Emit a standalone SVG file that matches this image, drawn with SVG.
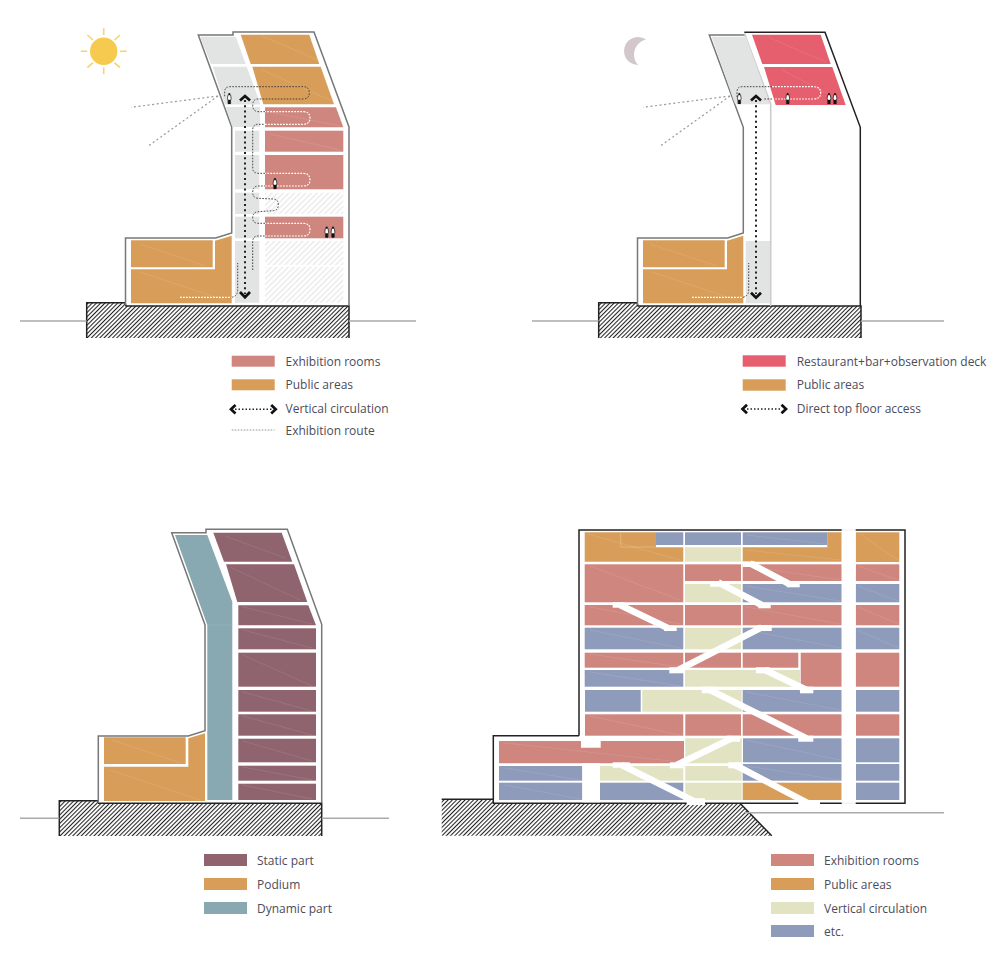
<svg xmlns="http://www.w3.org/2000/svg" xmlns:xlink="http://www.w3.org/1999/xlink" width="1000" height="962" viewBox="0 0 1000 962">
<style>
.red{fill:#cf867f}.org{fill:#d89e59}.grn{fill:#e2e3c2}.blu{fill:#8f9bbb}.gry{fill:#e2e3e3}.hot{fill:#e55f6e}.mar{fill:#8f646e}.tea{fill:#88a9b2}
.wht{fill:#fff}.lh{fill:url(#lightHatch)}
.out{fill:none;stroke:#777;stroke-width:1.5}.outk{fill:none;stroke:#222;stroke-width:1.5}
.gl{stroke:#aaa;stroke-width:1.5;fill:none}
.gh{fill:url(#hatch)}.gb{fill:none;stroke:#222;stroke-width:1.5}
.vc{fill:none;stroke:#222;stroke-width:2;stroke-dasharray:2 3.2}
.chev{fill:none;stroke:#111;stroke-width:2.7}
.rk{fill:none;stroke:#333;stroke-width:.9;stroke-dasharray:1.6 1.4}
.rw{fill:none;stroke:#fff;stroke-width:1.2;stroke-dasharray:1.8 1.2}
.sl{fill:none;stroke:#999;stroke-width:1.2;stroke-dasharray:2 2.6}
.ramp{fill:none;stroke:#fff;stroke-width:6.5}
.tex{fill:none;stroke:#fff;stroke-opacity:.14;stroke-width:.7}
.ray{stroke:#f7d46c;stroke-width:1.6}
text{font-family:"Open Sans","Liberation Sans",sans-serif;font-size:12px;fill:#4c4c5a}
</style>
<defs>
<pattern id="hatch" width="3" height="3" patternUnits="userSpaceOnUse" patternTransform="rotate(45)"><rect width="3" height="3" fill="#fff"/><rect width="1.05" height="3" fill="#222"/></pattern>
<pattern id="lightHatch" width="4" height="4" patternUnits="userSpaceOnUse" patternTransform="rotate(45)"><rect width="4" height="4" fill="#fff"/><rect width="1.3" height="4" fill="#e8e8e8"/></pattern>
<g id="person"><path d="M-1.3-4.2h2.6l.6 4-.6 1.2v3.6h-2.6V1L-1.900-.2z" fill="#fff" stroke="#111" stroke-width=".7"/><circle cy="-5" r="1" fill="#111"/><path d="M-1.200.8h2.400v4.200h-2.400z" fill="#111"/></g>
</defs>

<g id="panel-day">
<path class="gh" d="M86.700 302.700H125L126 306H349V338H86.700z"/>
<path class="gb" d="M86.700 338V302.700H125L126 306H349V338"/>
<path class="gl" d="M20 321H86.700M349 321H416"/>
<path class="out" d="M125.500 305V238H215.700L231.700 233V127L198.300 35H233V32H314L349 127V306"/>
<g id="sun"><circle cx="103.700" cy="51.300" r="13.700" fill="#f6c94f"/>
<path class="ray" d="M103.700 28.300V35M103.700 67.600V74.300M80.700 51.300H87.400M120 51.300H126.700M87.400 35L93 40M120 35L114.400 40M87.400 67.600L93 62.600M120 67.600L114.400 62.600"/></g>
<g id="d-grey">
<path class="gry" d="M200 36.700H235.700L245.700 64H211z"/>
<path class="gry" d="M212.700 66.700H246.700L260 103V104.500H224.800z"/>
<path class="gry" d="M225.700 107H260V127H232.300z"/>
<rect class="gry" x="235" y="130.700" width="24.300" height="21"/>
<rect class="gry" x="235" y="155" width="24.300" height="34.300"/>
<rect class="gry" x="235" y="192.700" width="24.300" height="21.300"/>
<rect class="gry" x="235" y="216.700" width="24.300" height="21.600"/>
<rect class="gry" x="235" y="241" width="24.300" height="61.700"/>
</g>
<g id="d-rooms">
<path class="org" d="M240.700 34.700H309.300L319.300 64H250.700z"/>
<path class="org" d="M252.300 66.700H320.700L334 104.300H263.300z"/>
<path class="red" d="M265 107.300H336L343.300 127.300H265z"/>
<rect class="red" x="265" y="130.700" width="78.300" height="21"/>
<rect class="red" x="265" y="155" width="78.300" height="34.300"/>
<rect class="lh" x="265" y="192.700" width="78.300" height="21.300"/>
<rect class="red" x="265" y="216.700" width="78.300" height="21.600"/>
<rect class="lh" x="265" y="241" width="78.300" height="24"/>
<rect class="lh" x="265" y="266.700" width="78.300" height="36"/>
<path class="org" d="M131 240.300H212.700V267.300H131z"/>
<path class="org" d="M131 269.300H215V240.700L231.700 235.700V303.300H131z"/>
<path class="tex" d="M262 36L318 60M262 70L330 100M270 112L340 126M270 134L340 150M140 244L205 266M140 272L225 300"/>
</g>
</g>

<g id="panel-night">
<path class="gh" d="M598.700 302.700H637L638 306H861V338H598.700z"/>
<path class="gb" d="M598.700 338V302.700H637L638 306H861V338"/>
<path class="gl" d="M532 321H598.700M861 321H944"/>
<path class="out" d="M637.500 305V238H727.700L743.300 233V127.300L709.300 35H745"/>
<path class="outk" d="M744.300 32.300H825L860.300 127.300V306"/>
<path d="M744.300 33L770.700 104V306" fill="none" stroke="#ccc" stroke-width="1.600"/>
<path d="M646 39.500A14 14 0 1 0 638.300 65C631 58 633 43 646 39.500z" fill="#d2c8cc"/>
<path class="gry" d="M711.700 36.700H746L770 104.300H735z"/>
<rect class="gry" x="745.700" y="241" width="24.300" height="62.300"/>
<path class="hot" d="M752 34.700H820.700L830.700 64H762.300z"/>
<path class="hot" d="M764 67H832.300L845.700 105H775.700z"/>
<path class="org" d="M643 240.300H724.700V267.300H643z"/>
<path class="org" d="M643 269.300H727V240.700L743.300 235.700V303.300H643z"/>
<path class="tex" d="M770 38L826 62M782 70L840 100M650 244L717 266M652 272L737 300"/>
</g>

<g id="panel-structure">
<path class="gh" d="M59.300 800.700H98L98.500 803.300H321.700V836H59.300z"/>
<path class="gb" d="M59.300 836V800.700H98L98.500 803.300H321.700V836"/>
<path class="gl" d="M20 818.300H59.300M321.700 818.300H389"/>
<path class="out" d="M98.300 803V736H188.300L205 730.700V625L171.700 532.700H206V529.300H287.300L321.700 624.300V803"/>
<path class="tea" d="M175 535H207.300L232.300 601.700V800H207.300V625z"/>
<g class="mar">
<path d="M213.300 532.700H281.700L292.300 561.700H224z"/>
<path d="M226 564.300H294L307.300 602H237.300z"/>
<path d="M238.300 605.300H308.300L316 625.300H238.300z"/>
<rect x="238.300" y="628.300" width="77.700" height="21"/>
<rect x="238.300" y="652.700" width="77.700" height="34"/>
<rect x="238.300" y="690" width="77.700" height="21.700"/>
<rect x="238.300" y="714.300" width="77.700" height="21.400"/>
<rect x="238.300" y="738.700" width="77.700" height="23.600"/>
<rect x="238.300" y="765.700" width="77.700" height="15"/>
<rect x="238.300" y="783.700" width="77.700" height="16.300"/>
</g>
<path class="org" d="M104 737.300H185.700V764H104z"/>
<path class="org" d="M104 766.700H188.300V738.300L205 733.300V801H104z"/>
<path class="tex" d="M225 536L285 558M230 567L300 600M243 607L312 624M243 630L312 648M243 655L312 686M243 692L312 711M243 716L312 735M243 741L312 761M243 767L312 780M243 785L312 799M112 740L180 763M110 770L200 800M207 625H232"/>
</g>

<g id="panel-section">
<path class="gh" d="M441.700 799.300H493.300V803.300H740L771.700 835.700H441.700z"/>
<path class="gb" d="M441.700 799.300H493.300"/>
<path class="gb" d="M740 803.300L771.700 835.700" stroke-width="1"/>
<path class="gl" d="M745 812.700H944"/>
<path class="outk" d="M579 735.700V530H905V803.300H493.300V735.700H579"/>
<g id="rooms-public" class="org">
<path d="M584.700 532.300H656V547.300H683.300V561.700H584.700z"/>
<path d="M742.700 547.300H827.300V532.300H841.700V561.700H742.700z"/>
<rect x="855.700" y="532.300" width="43.600" height="29.700"/>
<rect x="742.700" y="782.700" width="99" height="17.300"/>
</g>
<path d="M620.700 532.300V547H656" fill="none" stroke="#e6b981" stroke-width=".8"/>
<g id="rooms-etc" class="blu">
<rect x="656" y="532.300" width="27.300" height="12.700"/><rect x="685" y="532.300" width="56" height="12.700"/><rect x="742.700" y="532.300" width="84.600" height="12.700"/>
<rect x="742.700" y="584" width="99" height="18.300"/><rect x="855.700" y="584" width="43.600" height="18.300"/>
<rect x="584.700" y="627.700" width="98.600" height="21.600"/><rect x="742.700" y="627.700" width="99" height="21.600"/><rect x="855.700" y="627.700" width="43.600" height="21.600"/>
<rect x="584.700" y="670" width="98.600" height="16.700"/>
<rect x="585" y="690" width="55.700" height="21.700"/><rect x="742.700" y="690" width="99" height="21.700"/><rect x="856" y="690" width="43.300" height="21.700"/>
<rect x="743" y="738.300" width="98.700" height="24"/><rect x="856" y="738.300" width="43.300" height="24"/>
<rect x="499" y="766" width="83.300" height="14.700"/><rect x="742.700" y="764" width="99" height="16.700"/><rect x="856" y="764" width="43.300" height="16.700"/>
<rect x="499" y="782.700" width="83.300" height="17.300"/><rect x="600" y="782.700" width="83.300" height="17.300"/><rect x="856" y="782.700" width="43.300" height="17.300"/>
</g>
<g id="rooms-vertical" class="grn">
<rect x="685" y="547.300" width="56" height="14.400"/>
<rect x="685" y="584" width="56" height="18.300"/>
<rect x="685" y="627.700" width="56" height="21.600"/>
<rect x="685" y="670" width="115" height="16.700"/>
<rect x="642.300" y="690" width="99.400" height="21.700"/>
<rect x="685.300" y="738.300" width="56.400" height="25"/>
<rect x="600" y="766" width="83.300" height="14.700"/>
<rect x="685.300" y="766" width="56.400" height="14.700"/>
<rect x="685.300" y="782.700" width="56.400" height="17.300"/>
</g>
<g id="rooms-exhibition" class="red">
<rect x="584.700" y="564.300" width="98.600" height="38"/>
<rect x="685" y="564.300" width="56" height="16.700"/><rect x="742.700" y="564.300" width="99" height="16.700"/><rect x="855.700" y="564.300" width="43.600" height="16.700"/>
<rect x="584.700" y="605" width="98.600" height="20.300"/><rect x="685" y="605" width="56" height="20.300"/><rect x="742.700" y="605" width="99" height="20.300"/><rect x="855.700" y="605" width="43.600" height="20.300"/>
<rect x="584.700" y="652.700" width="98.600" height="15"/><rect x="685" y="652.700" width="56" height="15"/><rect x="742.700" y="652.700" width="55.600" height="15"/>
<rect x="800.700" y="652.700" width="41" height="34"/><rect x="855.700" y="652.700" width="43.600" height="34"/>
<rect x="585" y="714.300" width="98.300" height="21.400"/><rect x="685.300" y="714.300" width="55.700" height="21.400"/><rect x="742.700" y="714.300" width="99" height="21.400"/><rect x="856" y="714.300" width="43.300" height="21.400"/>
<path d="M499 741H581V747.700H600.700V741H684V763.300H499z"/>
</g>
<path class="tex" d="M590 566L680 600M590 607L680 624M590 630L680 648M590 654L680 667M590 672L680 686M590 716L680 735M505 743L680 762M505 768L580 780M505 785L580 799M746 535L826 544M746 550L840 560M746 566L840 580M746 586L840 601M746 607L840 624M746 630L840 648M746 692L840 710M746 740L840 760M746 766L840 780M858 566L898 580M858 586L898 601M858 607L898 624M858 630L898 648M588 534L680 560M860 534L898 560"/>
<g id="ramps">
<path class="ramp" d="M750 563.300L790 584.300M718.300 582.300L761.700 605M620 605L668.300 628.300M761.700 627.300L678.300 670M765 670L806.700 690M710 690L806.700 738.300M731.700 738.300L676.700 765M621.700 765L695 801.700M735 765L808.300 803.300"/>
<g class="wht">
<rect x="742.700" y="561.500" width="12.300" height="5.500"/><rect x="786.700" y="581.700" width="13" height="5.600"/>
<rect x="710" y="581" width="13" height="5.700"/><rect x="758.300" y="602.700" width="12.400" height="5.600"/>
<rect x="612.700" y="602.300" width="12.300" height="5.400"/><rect x="664" y="625.700" width="12.700" height="5.300"/>
<rect x="756.700" y="625" width="15" height="6"/><rect x="669.300" y="667.300" width="15.700" height="6"/>
<rect x="756" y="667.300" width="14" height="6"/><rect x="800" y="686.700" width="13.300" height="6.600"/>
<rect x="701.700" y="686.700" width="15" height="6.600"/><rect x="798.300" y="735.700" width="15" height="6"/>
<rect x="726.700" y="735.700" width="13.300" height="6"/><rect x="670" y="762.300" width="13.300" height="6"/>
<rect x="612.700" y="762.300" width="17.300" height="5.400"/><rect x="686.700" y="798.300" width="18.300" height="6.700"/>
<rect x="728.300" y="762.300" width="13.400" height="6"/><rect x="798.300" y="800" width="21.700" height="5"/>
<rect x="841.700" y="528" width="14" height="278" fill-opacity=".95"/>
<rect x="582.300" y="763.300" width="17.700" height="39"/>
</g>
</g>
</g>

<g id="connectors">
<path class="sl" d="M218 96L131 107.300M218 96L148.300 146"/>
<path class="sl" d="M730 96L643 107.300M730 96L660.300 146"/>
<path class="vc" d="M245 100V294M756 100V294"/>
<path class="chev" d="M240 100.500L245 96L250 100.500M240 292L245 297.300L250 292M751 100.500L756 96L761 100.500M751 292.700L756 297.700L761 292.700"/>
<path class="rw" d="M180 297.300H231.700M692 297.300H742.700"/>
<path class="rk" d="M231.700 297.300Q237.700 296 237.700 290V263M743 297.300Q748.700 296 748.700 290V263"/>
<path class="rk" d="M252.700 270V242Q252.700 236 258 236H265M265 223.300H258Q252.700 223 252.700 218Q252.700 212 258.300 211.700L273.300 210.700Q278.300 210 278.300 205Q278.300 199 273.300 199L258 198.300Q252.700 198 252.700 192.500Q252.700 186 258.300 186H265M265 173.300H258Q252.700 173 252.700 168V130Q252.700 124.300 258 124.300H265M265 111.700H258Q252.700 111 252.700 105.500Q252.700 99 258 99H303Q309.300 99 309.300 92.700Q309.300 86.700 303 86.700H230Q224.700 86.700 224.700 92V97"/>
<path class="rw" d="M265 236H303Q310 236 310 229.500Q310 223.300 303 223.300H265M265 186H303Q310 186 310 180Q310 173.300 303 173.300H265M265 124.300H303Q310 124.300 310 118Q310 111.700 303 111.700H265"/>
<path class="rk" d="M737 97V92Q737 86.700 742 86.700H772M772 99H763"/>
<path class="rw" d="M772 86.700H813Q820.700 86.700 820.700 92.700Q820.700 99 813 99H772"/>
</g>

<g id="people">
<use xlink:href="#person" href="#person" x="229.300" y="99"/>
<use xlink:href="#person" href="#person" x="275" y="184"/>
<use xlink:href="#person" href="#person" x="326.700" y="232.500"/>
<use xlink:href="#person" href="#person" x="333" y="232.500"/>
<use xlink:href="#person" href="#person" x="739.300" y="99"/>
<use xlink:href="#person" href="#person" x="787.700" y="99"/>
<use xlink:href="#person" href="#person" x="829" y="99"/>
<use xlink:href="#person" href="#person" x="835" y="99"/>
</g>

<g id="legend-day">
<rect class="red" x="231.700" y="355.700" width="43" height="11"/><text x="285.500" y="365.500">Exhibition rooms</text>
<rect class="org" x="231.700" y="379.300" width="43" height="11"/><text x="285.500" y="388.500">Public areas</text>
<path class="chev" d="M235.500 405L231 409.300L235.500 413.600M271.200 405L275.700 409.300L271.200 413.600"/><path class="vc" d="M235 409.300H272" style="stroke-width:1.500;stroke-dasharray:1.500 2"/><text x="285.500" y="412.500">Vertical circulation</text>
<path class="rk" d="M231.700 430H274.700" style="stroke:#888"/><text x="285.500" y="434.500">Exhibition route</text>
</g>
<g id="legend-night">
<rect class="hot" x="742.700" y="355.300" width="43" height="11.400"/><text x="796.700" y="365.500">Restaurant+bar+observation deck</text>
<rect class="org" x="742.700" y="379.300" width="43" height="11.400"/><text x="796.700" y="388.500">Public areas</text>
<path class="chev" d="M747 404.700L742.500 409L747 413.300M781.500 404.700L786 409L781.500 413.300"/><path class="vc" d="M747 409H782" style="stroke-width:1.500;stroke-dasharray:1.500 2"/><text x="796.700" y="412.500">Direct top floor access</text>
</g>
<g id="legend-structure">
<rect class="mar" x="204" y="854" width="43" height="12"/><text x="257" y="864.500">Static part</text>
<rect class="org" x="204" y="878" width="43" height="12"/><text x="257" y="888.500">Podium</text>
<rect class="tea" x="204" y="902" width="43" height="12"/><text x="257" y="912.500">Dynamic part</text>
</g>
<g id="legend-section">
<rect class="red" x="771" y="854" width="43" height="12"/><text x="824" y="864.500">Exhibition rooms</text>
<rect class="org" x="771" y="878" width="43" height="12"/><text x="824" y="888.500">Public areas</text>
<rect class="grn" x="771" y="902" width="43" height="12"/><text x="824" y="912.500">Vertical circulation</text>
<rect class="blu" x="771" y="925" width="43" height="12"/><text x="824" y="936">etc.</text>
</g>
</svg>
